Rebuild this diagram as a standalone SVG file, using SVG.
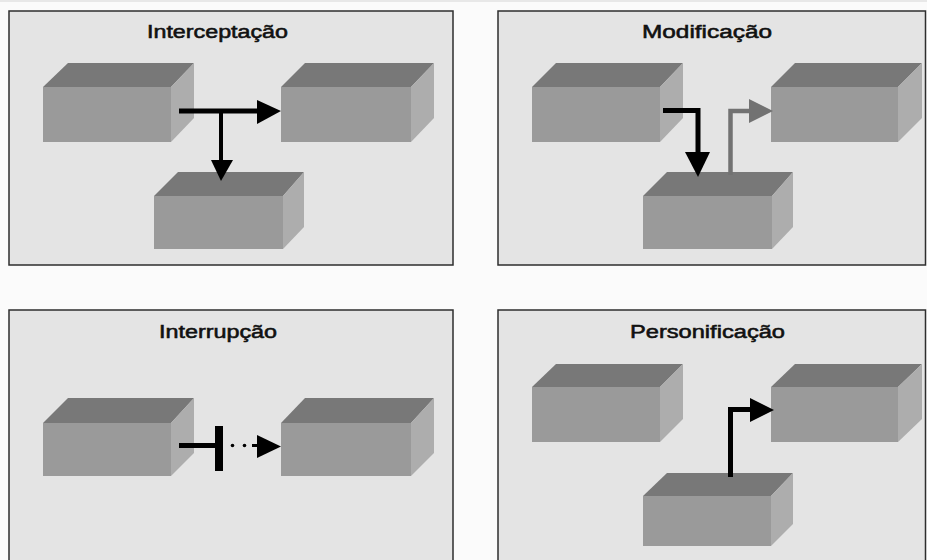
<svg xmlns="http://www.w3.org/2000/svg" width="927" height="560" viewBox="0 0 927 560">
  <style>
    .panel { fill: #e4e4e4; stroke: #2e2e2e; stroke-width: 1.5; }
    .title { font-family: "Liberation Sans", Arial, sans-serif; font-size: 18px; font-weight: normal; fill: #111; stroke: #111; stroke-width: 0.55; text-anchor: middle; }
    .front { fill: #9a9a9a; }
    .top { fill: #787878; }
    .side { fill: #adadad; }
    .wire { fill: none; stroke: #000; stroke-linejoin: miter; }
    .wire-gray { fill: none; stroke: #727272; stroke-linejoin: miter; }
    .head { fill: #000; }
    .head-gray { fill: #727272; }
    .dot { fill: #000; }
  </style>

  <rect x="0" y="0" width="927" height="560" fill="#fbfbfb"/>
  <rect x="0" y="0" width="927" height="2" fill="#e8e8e8"/>

  <!-- four framed panels -->
  <g id="panel-interceptacao">
    <rect class="panel" x="9" y="11" width="444" height="254"/>
    <text class="title" x="217.5" y="37.5" textLength="141" lengthAdjust="spacingAndGlyphs">Interceptação</text>
  </g>
  <g id="panel-modificacao">
    <rect class="panel" x="498" y="11" width="427.5" height="254"/>
    <text class="title" x="707" y="37.5" textLength="130" lengthAdjust="spacingAndGlyphs">Modificação</text>
  </g>
  <g id="panel-interrupcao">
    <rect class="panel" x="9" y="310" width="444" height="260"/>
    <text class="title" x="218" y="337.5" textLength="118" lengthAdjust="spacingAndGlyphs">Interrupção</text>
  </g>
  <g id="panel-personificacao">
    <rect class="panel" x="498" y="310" width="427.5" height="260"/>
    <text class="title" x="707.5" y="337.5" textLength="155" lengthAdjust="spacingAndGlyphs">Personificação</text>
  </g>

  <!-- boxes: front face, top face, right side (depth 23 right, 24 up) -->
  <g id="p1-source">
    <polygon class="top" points="43,87 68,63 194,63 171,87"/>
    <polygon class="side" points="171,87 194,63 194,118 171,142"/>
    <rect class="front" x="43" y="87" width="128" height="55"/>
  </g>
  <g id="p1-target">
    <polygon class="top" points="281,87 305,63 434,63 411,87"/>
    <polygon class="side" points="411,87 434,63 434,118 411,142"/>
    <rect class="front" x="281" y="87" width="130" height="55"/>
  </g>
  <g id="p1-intruder">
    <polygon class="top" points="154,196 178,172 304,172 283,196"/>
    <polygon class="side" points="283,196 304,172 304,227 283,249"/>
    <rect class="front" x="154" y="196" width="129" height="53"/>
  </g>

  <g id="p2-source">
    <polygon class="top" points="532,87 556,63 683,63 660,87"/>
    <polygon class="side" points="660,87 683,63 683,118 660,142"/>
    <rect class="front" x="532" y="87" width="128" height="55"/>
  </g>
  <g id="p2-target">
    <polygon class="top" points="771,87 795,63 922,63 898,87"/>
    <polygon class="side" points="898,87 922,63 922,118 898,142"/>
    <rect class="front" x="771" y="87" width="127" height="55"/>
  </g>
  <g id="p2-intruder">
    <polygon class="top" points="643,196 667,172 793,172 772,196"/>
    <polygon class="side" points="772,196 793,172 793,227 772,249"/>
    <rect class="front" x="643" y="196" width="129" height="53"/>
  </g>

  <g id="p3-source">
    <polygon class="top" points="43,423 68,398 194,398 171,423"/>
    <polygon class="side" points="171,423 194,398 194,453 171,476"/>
    <rect class="front" x="43" y="423" width="128" height="53"/>
  </g>
  <g id="p3-target">
    <polygon class="top" points="281,423 305,398 434,398 411,423"/>
    <polygon class="side" points="411,423 434,398 434,453 411,476"/>
    <rect class="front" x="281" y="423" width="130" height="53"/>
  </g>

  <g id="p4-source">
    <polygon class="top" points="532,387 556,364 683,364 660,387"/>
    <polygon class="side" points="660,387 683,364 683,419 660,442"/>
    <rect class="front" x="532" y="387" width="128" height="55"/>
  </g>
  <g id="p4-target">
    <polygon class="top" points="771,387 795,364 922,364 898,387"/>
    <polygon class="side" points="898,387 922,364 922,419 898,442"/>
    <rect class="front" x="771" y="387" width="127" height="55"/>
  </g>
  <g id="p4-intruder">
    <polygon class="top" points="643,496 667,473 793,473 771,496"/>
    <polygon class="side" points="771,496 793,473 793,524 771,546"/>
    <rect class="front" x="643" y="496" width="128" height="50"/>
  </g>

  <!-- connectors -->
  <g id="connectors">
    <!-- interception: flow tapped off downwards -->
    <path class="wire" stroke-width="5" d="M179,111 H257"/>
    <polygon class="head" points="257,100 281,111 257,124"/>
    <path class="wire" stroke-width="4" d="M221,111 V160"/>
    <polygon class="head" points="211,160 233,160 221,181"/>

    <!-- modification: into intruder, altered flow out -->
    <path class="wire" stroke-width="5" d="M663,110.5 H698 V152"/>
    <polygon class="head" points="685,152 710,152 698,177"/>
    <path class="wire-gray" stroke-width="4.5" d="M730.5,175 V111 H749"/>
    <polygon class="head-gray" points="749,99 773,111 749,123"/>

    <!-- interruption: blocked flow -->
    <path class="wire" stroke-width="5" d="M179,445.5 H219"/>
    <rect x="215" y="426" width="8" height="45" fill="#000"/>
    <circle class="dot" cx="232.5" cy="445.5" r="1.8"/>
    <circle class="dot" cx="244.5" cy="445.5" r="1.8"/>
    <path class="wire" stroke-width="3" d="M252,445.5 H258"/>
    <polygon class="head" points="257,435 281,446.5 257,458"/>

    <!-- impersonation: fabricated flow -->
    <path class="wire" stroke-width="5" d="M730.5,477 V409.5 H750"/>
    <polygon class="head" points="750,398 774,410 750,422"/>
  </g>
</svg>
